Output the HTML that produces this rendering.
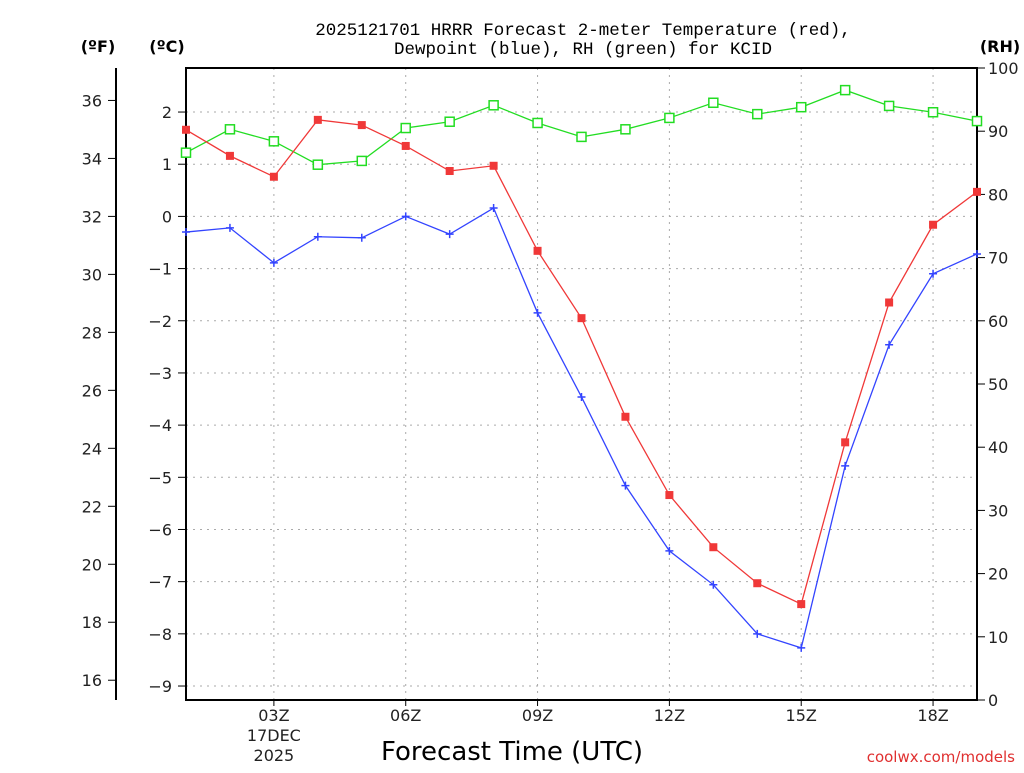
<!DOCTYPE html>
<html><head><meta charset="utf-8"><style>
body{margin:0;background:#fff;}
svg text{font-family:"DejaVu Sans","Liberation Sans",sans-serif;}
</style></head><body>
<svg id="chart" width="1024" height="768" xmlns="http://www.w3.org/2000/svg">
<text x="583" y="35" font-size="17.5" text-anchor="middle" fill="#000" style="font-family:'Liberation Mono',monospace">2025121701 HRRR Forecast 2-meter Temperature (red),</text>
<text x="583" y="54" font-size="17.5" text-anchor="middle" fill="#000" style="font-family:'Liberation Mono',monospace">Dewpoint (blue), RH (green) for KCID</text>
<text x="98" y="52" font-size="16" font-weight="bold" text-anchor="middle">(ºF)</text>
<text x="167" y="52" font-size="16" font-weight="bold" text-anchor="middle">(ºC)</text>
<text x="1000" y="52" font-size="16" font-weight="bold" text-anchor="middle">(RH)</text>
<text x="512" y="760" font-size="26" text-anchor="middle">Forecast Time (UTC)</text>
<text x="1015" y="762" font-size="15" text-anchor="end" fill="#e03030">coolwx.com/models</text>
<g id="g"></g>
</svg>
<script>
const hours=[1,2,3,4,5,6,7,8,9,10,11,12,13,14,15,16,17,18,19];
const tempC=[1.66,1.16,0.76,1.85,1.75,1.35,0.87,0.97,-0.66,-1.95,-3.84,-5.34,-6.34,-7.03,-7.43,-4.33,-1.65,-0.16,0.47];
const dewC=[-0.30,-0.22,-0.89,-0.39,-0.41,0.0,-0.34,0.16,-1.85,-3.46,-5.16,-6.41,-7.06,-8.0,-8.27,-4.78,-2.46,-1.10,-0.72];
const rh=[86.6,90.3,88.4,84.7,85.3,90.5,91.5,94.1,91.3,89.1,90.3,92.1,94.5,92.7,93.8,96.5,94.0,93.0,91.6];
const cTicks=[2,1,0,-1,-2,-3,-4,-5,-6,-7,-8,-9];
const fTicks=[36,34,32,30,28,26,24,22,20,18,16];
const rhTicks=[0,10,20,30,40,50,60,70,80,90,100];
const xTickHours=[3,6,9,12,15,18];
const xTickLabels=["03Z","06Z","09Z","12Z","15Z","18Z"];
const L=186,R=977,T=68,B=700;
const xs=h=>L+(h-1)*(R-L)/18;
const yc=c=>216.4-c*52.18;
const yf=f=>yc((f-32)/1.8);
const yr=r=>B-r*(B-T)/100;
const g=document.getElementById('g');const NS="http://www.w3.org/2000/svg";
function el(t,a,txt){const e=document.createElementNS(NS,t);for(const k in a)e.setAttribute(k,a[k]);if(txt!==undefined)e.textContent=txt;g.appendChild(e);return e;}
cTicks.forEach(c=>{const y=yc(c);
const l=el('line',{x1:L,x2:R,y1:y,y2:y,stroke:'#aaa','stroke-dasharray':'2,5'});

el('line',{x1:L-8,x2:L,y1:y,y2:y,stroke:'#000'});
const t=el('text',{x:L-14,y:y+6,'font-size':16,'text-anchor':'end',fill:'#222'},String(c).replace('-','−'));
});
xTickHours.forEach((h,i)=>{const x=xs(h);
const l=el('line',{x1:x,x2:x,y1:T,y2:B,stroke:'#aaa','stroke-dasharray':'2,5'});

el('line',{x1:x,x2:x,y1:B,y2:B+6,stroke:'#000'});
const t=el('text',{x:x,y:721,'font-size':16,'text-anchor':'middle',fill:'#222'},xTickLabels[i]);
});
const d1=el('text',{x:xs(3),y:741,'font-size':16,'text-anchor':'middle',fill:'#222'},'17DEC');
const d2=el('text',{x:xs(3),y:761,'font-size':16,'text-anchor':'middle',fill:'#222'},'2025');
el('line',{x1:116,x2:116,y1:68,y2:700,stroke:'#000','stroke-width':2});
fTicks.forEach(f=>{const y=yf(f);el('line',{x1:108,x2:116,y1:y,y2:y,stroke:'#000'});
const t=el('text',{x:102,y:y+6,'font-size':16,'text-anchor':'end',fill:'#222'},f);});
rhTicks.forEach(r=>{const y=yr(r);el('line',{x1:R,x2:R+8,y1:y,y2:y,stroke:'#000'});
const t=el('text',{x:988,y:y+6,'font-size':16,fill:'#222'},r);});
const fr=el('rect',{x:L,y:T,width:R-L,height:B-T,fill:'none',stroke:'#000','stroke-width':2});

function series(vals,yfn,color,name,marker){
const p=el('polyline',{points:vals.map((v,i)=>xs(hours[i])+','+yfn(v)).join(' '),fill:'none',stroke:color,'stroke-width':1.3});

vals.forEach((v,i)=>{const x=xs(hours[i]),y=yfn(v);let m;
if(marker==='fill')m=el('rect',{x:x-4,y:y-4,width:8,height:8,fill:color});
else if(marker==='open')m=el('rect',{x:x-4.5,y:y-4.5,width:9,height:9,fill:'#fff',stroke:color,'stroke-width':1.5});
else m=el('path',{d:`M${x-4},${y}H${x+4}M${x},${y-4}V${y+4}`,stroke:color,'stroke-width':1.5});
});}
series(rh,yr,'#22dd22','rh','open');
series(tempC,yc,'#f03838','temperature','fill');
series(dewC,yc,'#3344ff','dewpoint','plus');
</script>
</body></html>
